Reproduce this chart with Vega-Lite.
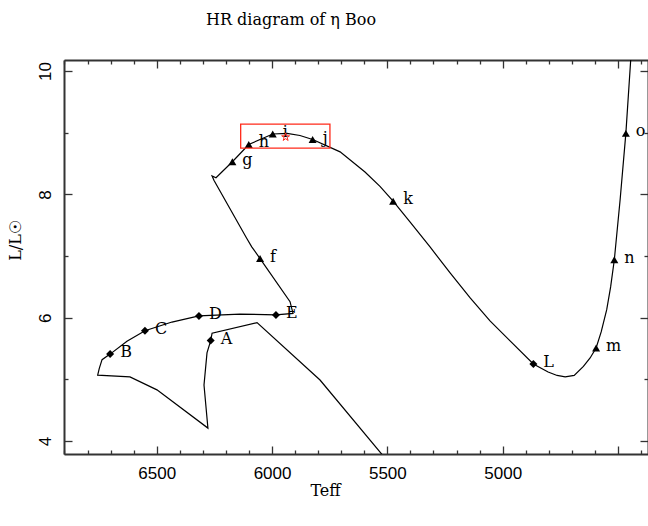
{
  "$schema": "https://vega.github.io/schema/vega-lite/v6.json",
  "width": 584,
  "height": 394,
  "autosize": "none",
  "padding": {"left": 64, "top": 60, "right": 0, "bottom": 72},
  "background": "white",
  "title": {"text": "HR diagram of η Boo", "font": "DejaVu Serif", "fontSize": 16, "fontWeight": "normal", "color": "black", "anchor": "middle", "frame": "group", "dx": -65, "offset": 18, "baseline": "alphabetic"},
  "config": {
    "view": {"stroke": null},
    "axis": {"domainColor": "#333", "domainWidth": 2, "tickColor": "#333", "tickWidth": 1.3, "grid": false, "labelFont": "Liberation Sans", "labelFontSize": 17, "labelColor": "black", "titleFont": "DejaVu Serif", "titleFontSize": 16, "titleFontWeight": "normal", "titleColor": "black", "labelOverlap": false, "labelFlush": false, "labelBound": false, "format": "d"}
  },
  "datasets": {
    "track": [
      {"i": 0, "T": 5467, "L": 3.53},
      {"i": 1, "T": 5792, "L": 4.99},
      {"i": 2, "T": 6065, "L": 5.92},
      {"i": 3, "T": 6260, "L": 5.75},
      {"i": 4, "T": 6266, "L": 5.63},
      {"i": 5, "T": 6282, "L": 5.43},
      {"i": 6, "T": 6295, "L": 4.91},
      {"i": 7, "T": 6278, "L": 4.21},
      {"i": 8, "T": 6499, "L": 4.83},
      {"i": 9, "T": 6616, "L": 5.04},
      {"i": 10, "T": 6756, "L": 5.07},
      {"i": 11, "T": 6749, "L": 5.18},
      {"i": 12, "T": 6737, "L": 5.32},
      {"i": 13, "T": 6702, "L": 5.41},
      {"i": 14, "T": 6629, "L": 5.62},
      {"i": 15, "T": 6551, "L": 5.79},
      {"i": 16, "T": 6434, "L": 5.93},
      {"i": 17, "T": 6317, "L": 6.03},
      {"i": 18, "T": 6139, "L": 6.06},
      {"i": 19, "T": 5983, "L": 6.045},
      {"i": 20, "T": 5909, "L": 6.07},
      {"i": 21, "T": 5922, "L": 6.26},
      {"i": 22, "T": 6052, "L": 6.96},
      {"i": 23, "T": 6088, "L": 7.15},
      {"i": 24, "T": 6110, "L": 7.29},
      {"i": 25, "T": 6252, "L": 8.23},
      {"i": 26, "T": 6260, "L": 8.30},
      {"i": 27, "T": 6243, "L": 8.27},
      {"i": 28, "T": 6172, "L": 8.53},
      {"i": 29, "T": 6101, "L": 8.81},
      {"i": 30, "T": 5997, "L": 8.98},
      {"i": 31, "T": 5935, "L": 8.99},
      {"i": 32, "T": 5879, "L": 8.956},
      {"i": 33, "T": 5824, "L": 8.89},
      {"i": 34, "T": 5705, "L": 8.69},
      {"i": 35, "T": 5597, "L": 8.364},
      {"i": 36, "T": 5532, "L": 8.13},
      {"i": 37, "T": 5475, "L": 7.89},
      {"i": 38, "T": 5402, "L": 7.553},
      {"i": 39, "T": 5315, "L": 7.148},
      {"i": 40, "T": 5228, "L": 6.726},
      {"i": 41, "T": 5141, "L": 6.321},
      {"i": 42, "T": 5055, "L": 5.948},
      {"i": 43, "T": 4968, "L": 5.624},
      {"i": 44, "T": 4867, "L": 5.25},
      {"i": 45, "T": 4803, "L": 5.12},
      {"i": 46, "T": 4764, "L": 5.064},
      {"i": 47, "T": 4729, "L": 5.04},
      {"i": 48, "T": 4690, "L": 5.064},
      {"i": 49, "T": 4650, "L": 5.21},
      {"i": 50, "T": 4621, "L": 5.348},
      {"i": 51, "T": 4595, "L": 5.51},
      {"i": 52, "T": 4573, "L": 5.77},
      {"i": 53, "T": 4549, "L": 6.13},
      {"i": 54, "T": 4532, "L": 6.50},
      {"i": 55, "T": 4516, "L": 6.94},
      {"i": 56, "T": 4491, "L": 7.91},
      {"i": 57, "T": 4466, "L": 8.99},
      {"i": 58, "T": 4445, "L": 10.18},
      {"i": 59, "T": 4441, "L": 10.34}
    ],
    "marks": [
      {"label": "A", "type": "diamond", "T": 6266, "L": 5.63},
      {"label": "B", "type": "diamond", "T": 6702, "L": 5.41},
      {"label": "C", "type": "diamond", "T": 6551, "L": 5.79},
      {"label": "D", "type": "diamond", "T": 6317, "L": 6.03},
      {"label": "E", "type": "diamond", "T": 5983, "L": 6.045},
      {"label": "f", "type": "triangle", "T": 6052, "L": 6.96},
      {"label": "g", "type": "triangle", "T": 6172, "L": 8.53},
      {"label": "h", "type": "triangle", "T": 6101, "L": 8.81},
      {"label": "i", "type": "triangle", "T": 5997, "L": 8.98},
      {"label": "j", "type": "triangle", "T": 5824, "L": 8.89},
      {"label": "k", "type": "triangle", "T": 5475, "L": 7.89},
      {"label": "L", "type": "diamond", "T": 4867, "L": 5.25},
      {"label": "m", "type": "triangle", "T": 4595, "L": 5.51},
      {"label": "n", "type": "triangle", "T": 4516, "L": 6.94},
      {"label": "o", "type": "triangle", "T": 4466, "L": 8.99}
    ],
    "star": [{"T": 5941, "L": 8.93}],
    "box": [{"T": 6136, "T2": 5749, "L": 9.14, "L2": 8.75}]
  },
  "resolve": {"axis": {"x": "independent", "y": "independent"}},
  "layer": [
    {
      "data": {"name": "track"},
      "mark": {"type": "line", "color": "black", "strokeWidth": 1.2, "clip": true},
      "encoding": {
        "x": {"field": "T", "type": "quantitative", "scale": {"domain": [4370, 6902], "reverse": true, "nice": false, "zero": false},
          "axis": {"orient": "bottom", "values": [4400, 4500, 4600, 4700, 4800, 4900, 5000, 5100, 5200, 5300, 5400, 5500, 5600, 5700, 5800, 5900, 6000, 6100, 6200, 6300, 6400, 6500, 6600, 6700, 6800, 6900],
            "tickSize": {"condition": {"test": "datum.value % 500 === 0", "value": -8}, "value": -4},
            "labelExpr": "datum.value % 500 === 0 && datum.value >= 5000 ? datum.label : ''",
            "labelPadding": 19, "title": "Teff", "titleX": 261, "titleY": 41, "titleBaseline": "alphabetic", "titleAlign": "center"}},
        "y": {"field": "L", "type": "quantitative", "scale": {"domain": [3.79, 10.18], "nice": false, "zero": false},
          "axis": {"orient": "left", "values": [4, 5, 6, 7, 8, 9, 10],
            "tickSize": {"condition": {"test": "datum.value % 2 === 0", "value": -8}, "value": -4},
            "labelExpr": "datum.value % 2 === 0 ? datum.label : ''",
            "labelAngle": 270, "labelAlign": "center", "labelBaseline": "alphabetic",
            "labelPadding": 22, "title": "L/L☉", "titleX": -44, "titleY": 180, "titleAngle": 270, "titleBaseline": "alphabetic", "titleAlign": "center"}},
        "order": {"field": "i", "type": "quantitative"}
      }
    },
    {
      "data": {"name": "marks"},
      "mark": {"type": "point", "filled": true, "color": "black", "size": 64, "opacity": 1},
      "encoding": {
        "x": {"field": "T", "type": "quantitative", "scale": {"domain": [4370, 6902], "reverse": true, "nice": false, "zero": false}, "axis": null},
        "y": {"field": "L", "type": "quantitative", "scale": {"domain": [3.79, 10.18], "nice": false, "zero": false}, "axis": null},
        "shape": {"field": "type", "type": "nominal", "scale": {"domain": ["diamond", "triangle"], "range": ["diamond", "triangle-up"]}, "legend": null}
      }
    },
    {
      "data": {"name": "marks"},
      "mark": {"type": "text", "font": "DejaVu Serif", "fontSize": 16, "color": "black", "align": "left", "baseline": "alphabetic", "dx": 10, "dy": 3},
      "encoding": {
        "x": {"field": "T", "type": "quantitative", "scale": {"domain": [4370, 6902], "reverse": true, "nice": false, "zero": false}, "axis": null},
        "y": {"field": "L", "type": "quantitative", "scale": {"domain": [3.79, 10.18], "nice": false, "zero": false}, "axis": null},
        "text": {"field": "label"}
      }
    },
    {
      "data": {"name": "star"},
      "mark": {"type": "point", "filled": false, "stroke": "#ff2a1a", "strokeWidth": 1, "size": 70, "opacity": 1,
        "shape": "M0,-1L0.2245,-0.309L0.951,-0.309L0.363,0.118L0.588,0.809L0,0.382L-0.588,0.809L-0.363,0.118L-0.951,-0.309L-0.2245,-0.309Z"},
      "encoding": {
        "x": {"field": "T", "type": "quantitative", "scale": {"domain": [4370, 6902], "reverse": true, "nice": false, "zero": false}, "axis": null},
        "y": {"field": "L", "type": "quantitative", "scale": {"domain": [3.79, 10.18], "nice": false, "zero": false}, "axis": null}
      }
    },
    {
      "data": {"name": "box"},
      "mark": {"type": "rect", "filled": false, "stroke": "#ff2a1a", "strokeWidth": 1.3},
      "encoding": {
        "x": {"field": "T", "type": "quantitative", "scale": {"domain": [4370, 6902], "reverse": true, "nice": false, "zero": false},
          "axis": {"orient": "top", "values": [4400, 4500, 4600, 4700, 4800, 4900, 5000, 5100, 5200, 5300, 5400, 5500, 5600, 5700, 5800, 5900, 6000, 6100, 6200, 6300, 6400, 6500, 6600, 6700, 6800, 6900],
            "tickSize": {"condition": {"test": "datum.value % 500 === 0", "value": -8}, "value": -4},
            "labels": false, "title": null}},
        "x2": {"field": "T2"},
        "y": {"field": "L", "type": "quantitative", "scale": {"domain": [3.79, 10.18], "nice": false, "zero": false},
          "axis": {"orient": "right", "values": [4, 5, 6, 7, 8, 9, 10],
            "tickSize": {"condition": {"test": "datum.value % 2 === 0", "value": -8}, "value": -4},
            "labels": false, "title": null}},
        "y2": {"field": "L2"}
      }
    }
  ]
}
